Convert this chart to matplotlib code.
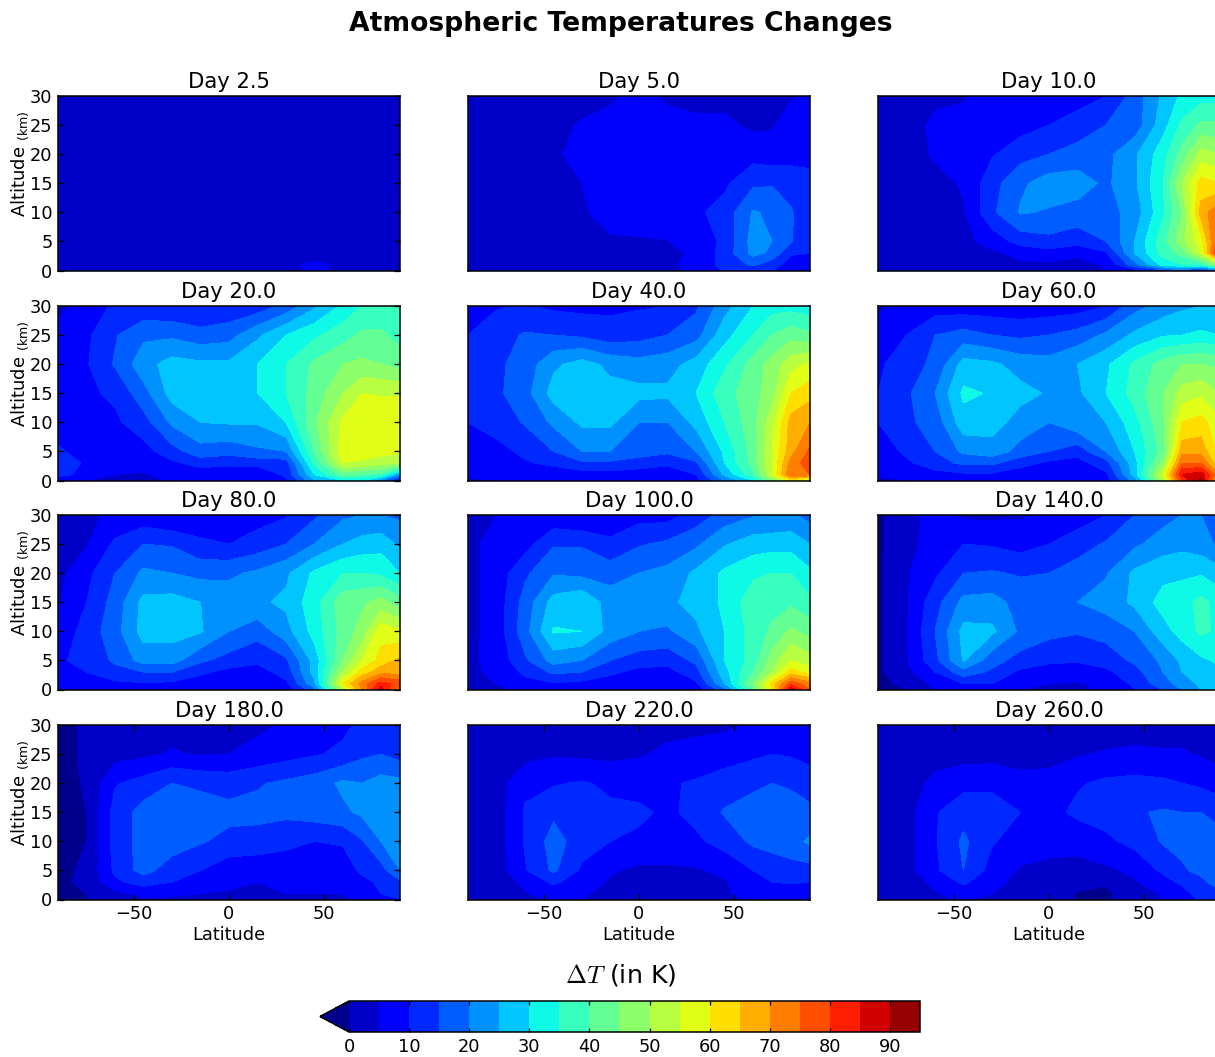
import numpy as np
import matplotlib
matplotlib.use('Agg')
import matplotlib.pyplot as plt

plt.rcParams['mathtext.fontset'] = 'cm'

latitudes = [-90, -75, -60, -45, -30, -15, 0, 15, 30, 45, 60, 70, 80, 90]
altitudes = [30, 25, 20, 15, 10, 5, 3, 1, 0]
levels = list(range(0, 100, 5))
cbar_ticks = list(range(0, 100, 10))

# one row per altitude, from 30 km down to the ground
day_2_5 = [
    [2, 2, 2, 2, 2, 2, 2, 2, 2, 2, 2, 2, 2, 2],
    [2, 2, 2, 2, 2, 2, 2, 2, 2, 2, 2, 2, 2, 2],
    [2, 2, 2, 2, 2, 2, 2, 2, 2, 2, 2, 2, 2, 2],
    [2, 2, 2, 2, 2, 2, 2, 2, 2, 2, 2, 2, 2, 2],
    [2, 2, 2, 2, 2, 2, 2, 2, 2, 2, 2, 2, 2, 2],
    [2, 2, 2, 2, 2, 2, 2, 2, 2, 2, 2, 2, 2, 2],
    [2, 2, 2, 2, 2, 2, 2, 2, 2, 2, 3, 2, 2, 2],
    [3, 3, 3, 3, 3, 3, 3, 3, 4, 6, 4, 3, 3, 3],
    [2, 3, 3, 3, 3, 3, 3, 3, 4, 5.5, 4, 3, 3, 2],
]
day_5 = [
    [3, 3, 3, 3, 3, 4.5, 6, 4.5, 3.5, 3.5, 3, 3.5, 4.5, 6],
    [3, 3, 3, 3.5, 5.5, 6, 7, 6, 6, 6, 4, 4.5, 7, 8],
    [3, 3, 3, 4, 7, 7, 8, 8, 8, 8, 8, 7, 8, 9],
    [3, 3, 3, 3.5, 5, 7, 8, 9, 9, 9, 14, 14.5, 13, 11],
    [3, 3, 3, 3, 4.5, 6.5, 7.5, 8, 9, 12, 20.5, 19, 15.5, 11],
    [3, 3, 3, 3, 3.5, 4.5, 4.5, 4.8, 7, 11, 22, 20, 15.5, 10.5],
    [3, 3, 3, 3, 3, 3.5, 3.5, 3.5, 6, 12, 21.5, 19, 10.5, 10],
    [3, 3, 3, 3, 3, 3, 3, 3, 8, 11, 16, 12, 8, 7],
    [3, 3, 3, 3, 3, 3, 3, 3, 6.5, 10.5, 11, 10.5, 4.5, 6],
]
day_10 = [
    [3, 3, 4, 4.5, 6.5, 7, 7.5, 8, 10, 17, 26, 31, 33, 33],
    [3, 3, 6, 6.5, 7, 8, 10, 12, 15, 17, 28, 36, 41, 41],
    [3, 3, 5.5, 7, 9.5, 13, 15, 17, 18.5, 24, 33, 42, 52, 50],
    [3, 3, 3.5, 5.5, 13, 19, 22.5, 22.5, 19, 24, 35, 50, 62, 60],
    [3, 3, 3, 4.5, 14, 20.5, 19.5, 18, 18, 22, 34, 45, 67, 75],
    [3, 3, 3, 3.5, 7, 12, 13.5, 12, 15, 25, 38, 48, 58, 80],
    [3, 3, 3, 3, 4, 6.5, 8, 6, 9.5, 25, 37, 42, 55, 85],
    [2.5, 3.5, 3, 3, 3, 4, 4, 3.5, 5.5, 18, 32, 35, 36, 50],
    [3, 3, 3, 3, 3, 3.5, 3.5, 3.5, 5, 8, 14, 17, 9, 20],
]
day_20 = [
    [4, 6.5, 11, 11, 10.5, 9.5, 11, 12, 16.5, 24, 31, 35, 36, 36],
    [6, 9, 14.5, 19, 19, 17, 18, 24, 30, 34, 38, 41, 41, 38],
    [7, 9.5, 15.5, 23, 27, 26, 26, 30, 35, 41, 45, 46, 45, 43],
    [7, 9, 11, 18, 27, 29, 29, 30, 35, 42, 50, 55, 54.5, 54.5],
    [8.5, 7.5, 9, 13, 21, 25, 25.5, 25.5, 30, 44, 56, 59, 59, 59],
    [10.5, 8.5, 7, 8, 13, 18, 17, 19, 20, 40, 58, 58, 57, 56],
    [12, 9.5, 5.5, 6.5, 9, 12, 11, 12, 12.5, 36, 55, 54, 52, 50],
    [11, 9, 5, 4.5, 6.5, 7, 7, 5.5, 11, 30, 42, 40, 38, 22],
    [8, 5, 4, 3.5, 5.5, 6, 6, 5, 9, 24, 30, 30, 20, 8],
]
day_40 = [
    [7, 9.5, 10.5, 9, 8.5, 9, 9.5, 10, 14, 23, 30, 33, 33, 32],
    [10, 13, 15.5, 15, 14, 12, 13, 15, 18, 28, 35, 40, 43, 41],
    [11, 14, 17, 24, 27, 23.5, 22, 23, 27, 34, 42, 47, 53, 56],
    [11.5, 14, 18, 27, 27.5, 27, 26.5, 26, 30, 38, 43, 48, 60, 63],
    [10, 12, 15.5, 21, 26, 26, 20, 20, 26.5, 35, 43, 53, 67, 70],
    [8.5, 8.5, 11, 15, 20, 20, 18, 16, 20, 31, 42, 55, 68, 76],
    [8, 8, 9.5, 11, 14, 14, 12, 11, 14, 30, 42, 55, 72, 78],
    [5.5, 7, 7.5, 7.5, 7.5, 8, 8, 7, 10, 26, 38, 55, 75, 75],
    [4.5, 5, 5, 5, 5, 5, 5, 5, 8, 20, 30, 45, 60, 50],
]
day_60 = [
    [4, 7, 7.5, 7, 7, 6.5, 7, 7.5, 10, 18, 22, 24, 25, 26],
    [7, 10, 15, 17, 15, 14, 15, 17, 21, 26, 29.5, 30, 31, 30],
    [9, 13, 16, 27, 26, 23, 22, 25, 29, 36, 42, 45, 45, 44],
    [10, 14, 20, 31, 29.5, 26.5, 24.5, 24, 30, 37, 45, 52, 54, 50],
    [10, 14, 17, 28, 27, 23, 20, 24, 25, 33, 44, 60, 62, 56],
    [7, 11, 15, 21, 23, 18, 15, 12, 20, 30, 42, 68, 68, 58],
    [6.5, 9, 13, 16, 16, 12, 9, 8, 13, 28, 47, 75, 75, 60],
    [5.5, 7, 8, 9, 9, 7, 6, 5.5, 9, 27, 55, 85, 88, 70],
    [4, 5, 5, 5.5, 5.5, 5, 5, 5, 8, 22, 50, 80, 92, 60],
]
day_80 = [
    [3.5, 4, 6, 6.5, 4.5, 6.5, 7.5, 8, 9.5, 14, 19, 20, 20, 19],
    [3.5, 4.5, 11, 15, 14.5, 11, 10, 12, 15, 20, 25, 27, 28, 24],
    [3.5, 8.5, 15, 21, 20, 18.5, 19, 21, 24, 31, 35, 35, 34, 30],
    [4.5, 10, 17, 26.5, 27, 25, 23, 24, 26, 33, 43, 44, 47, 42],
    [6.5, 12, 18, 27, 27, 25.5, 20, 17, 23, 32, 42, 47, 58, 56],
    [9.5, 11, 16, 22, 22, 16, 13, 11, 14, 27, 45, 55, 62, 66],
    [9, 10, 13, 15, 15, 11, 8.5, 8, 12, 27, 50, 62, 68, 68],
    [7.5, 8.5, 9, 9.5, 9, 7.5, 6.5, 6.5, 9, 24, 60, 72, 82, 78],
    [5, 6, 6.5, 6.5, 6, 5.5, 5, 5, 7, 18, 50, 70, 88, 70],
]
day_100 = [
    [3.5, 5, 6.5, 6, 4.5, 7, 8, 8, 12, 17, 19.5, 20, 21, 18],
    [3.5, 7, 8, 14.5, 14.5, 11, 14.5, 16, 19, 24.5, 27.5, 28, 28, 25],
    [3.5, 7, 14, 19.5, 18.5, 18, 20, 21.5, 26, 31, 34, 35, 35, 31],
    [3.5, 7, 17, 27, 29.5, 22.5, 23, 24, 26.5, 31, 38, 38, 39, 36],
    [3.5, 7, 18, 30.5, 30, 23, 20, 19, 24, 30, 37, 41, 46, 43],
    [4, 6.5, 14, 22, 20, 15, 12.5, 12, 16, 30, 37, 47, 55, 52],
    [4, 6, 11, 16, 15, 11, 8.5, 8, 13, 28, 40, 50, 62, 58],
    [4, 5, 8.5, 9.5, 8.5, 7.5, 6, 6, 9, 25, 45, 62, 78, 72],
    [3.5, 4, 6, 6.5, 5.5, 5, 5, 5, 7, 18, 40, 60, 88, 75],
]
day_140 = [
    [-1, 3.5, 6.5, 4, 4, 4.5, 5.5, 7, 10, 15, 18, 20, 20, 17],
    [-1, 3.5, 7, 10, 9.5, 8, 10, 13, 15.5, 19, 22.5, 23.5, 22, 19],
    [-1, 4.5, 9, 15, 15.5, 14.5, 15, 17, 19.5, 26, 28.5, 29, 29.5, 27],
    [-1, 4.5, 13, 21.5, 22, 18, 18, 20, 22, 26, 32, 33, 36.5, 33],
    [-1, 4.5, 15, 26.5, 26, 19, 16.5, 15.5, 17, 20, 28, 32, 36, 34],
    [-1, 4.5, 13.5, 25.5, 17, 13, 11, 10.5, 12, 16, 21, 26, 29, 31],
    [-1, 3.5, 10, 18, 14, 9, 7.5, 7.5, 9, 13, 20, 25, 28, 29],
    [-1, 1, 6, 10, 10, 6, 5, 4.5, 6, 11, 18, 22, 26, 27],
    [-1, 0, 5, 7, 6, 5, 4.5, 4.5, 5.5, 10, 15, 20, 25, 30],
]
day_180 = [
    [-2, 1, 3, 3, 3, 3, 3, 4, 5.5, 7, 9, 11, 12, 11],
    [-2, 1, 3, 4, 5.5, 4.5, 5, 6.5, 8, 9.5, 11, 14, 15, 13],
    [-2, 0.5, 9.5, 12, 15, 14, 13, 14.5, 16, 17.5, 21, 20, 22, 21.5],
    [-2, 0, 12, 17, 18, 17.5, 16.5, 16.5, 16, 17.5, 19, 21, 23, 23],
    [-2, 0, 12, 17, 18, 15.5, 13.5, 13, 12, 10, 10.5, 14.5, 20, 22],
    [-1.5, 1, 11, 17, 12, 10, 7, 6.5, 5.5, 5.5, 7.5, 11, 13, 20],
    [-1, 1, 9, 12, 10, 7, 6, 5, 5.5, 5.5, 6, 8.5, 11, 14],
    [-1, 0, 3.5, 6.5, 5.5, 5, 4.5, 4, 5, 5, 5, 8, 10, 11],
    [-1, -0.2, 3, 4.5, 4.5, 4, 4, 3, 4, 4, 3, 7, 10, 10],
]
day_220 = [
    [2, 2, 2, 2, 2, 2, 3, 3.5, 3.5, 4, 5.5, 6.5, 7, 7],
    [2, 2.5, 3, 4.5, 4, 3.5, 4.5, 6, 7, 8, 9, 10, 9.5, 8],
    [2, 2.5, 9, 9.5, 10.5, 9, 8, 9.5, 10.5, 12, 14, 15, 14, 13],
    [2, 2.5, 10.5, 14, 13, 11, 11, 9, 11.5, 15.5, 17, 17.5, 18, 16],
    [2, 2.5, 10.5, 17, 12.5, 10, 9, 8.5, 9, 12, 16, 17, 18, 21],
    [2, 2.5, 9.5, 16, 9, 5.5, 4, 4, 4.5, 6, 10, 12, 13, 13],
    [1.5, 2, 6, 11, 7, 4.5, 3.5, 3, 3.5, 4.5, 8, 10, 10.5, 10],
    [0.5, 2, 4.5, 7, 5.5, 3.5, 3, 3, 3, 4.5, 6.5, 7.5, 7.5, 8],
    [1, 1.5, 4, 5.5, 5, 3, 3, 3, 3, 4, 6, 7, 7, 7],
]
day_260 = [
    [1.5, 1.5, 1.5, 1.5, 1.5, 1.5, 2, 2, 2, 2.5, 3, 3, 3, 2.5],
    [2, 2, 2.5, 3, 3, 2.5, 3.5, 4.5, 5.5, 6, 5.5, 5.5, 4.5, 3.5],
    [2, 2, 6.5, 8.5, 9, 7, 6.5, 9.5, 11, 11.5, 11, 10, 9, 7],
    [2, 3, 9.5, 13, 12, 10, 8.5, 11, 12, 14.5, 15.5, 15, 15, 14],
    [2, 3, 9.5, 16, 10.5, 7.5, 7, 7, 9, 11.5, 15.5, 16, 16, 16],
    [2, 3, 9, 15, 8, 4.5, 3.5, 3, 4, 6, 11, 14.5, 16, 19],
    [2, 2, 6, 11, 6, 4, 3, 1.5, 0.3, 4.5, 8, 11, 14, 17],
    [1.5, 2, 4.5, 7, 5, 3, 1.5, -0.3, -0.6, 2, 5.5, 8, 12, 14],
    [1.5, 2, 4, 5.5, 4, 2.5, 2, -0.2, -0.5, 2, 5, 7, 11, 13],
]

panels = [
    ('Day 2.5', day_2_5), ('Day 5.0', day_5), ('Day 10.0', day_10),
    ('Day 20.0', day_20), ('Day 40.0', day_40), ('Day 60.0', day_60),
    ('Day 80.0', day_80), ('Day 100.0', day_100), ('Day 140.0', day_140),
    ('Day 180.0', day_180), ('Day 220.0', day_220), ('Day 260.0', day_260),
]

W, H = 1215.0, 1057.0
lefts = [58, 468, 878]
tops = [96, 306, 515, 725]
colors = plt.cm.jet(np.linspace(0.014, 0.98, 20))

fig = plt.figure(figsize=(W / 100, H / 100), dpi=100)

for n, (title, values) in enumerate(panels):
    row, col = n // 3, n % 3
    ax = fig.add_axes([lefts[col] / W, 1 - (tops[row] + 174.5) / H, 342 / W, 174.5 / H])
    cs = ax.contourf(latitudes, altitudes, np.array(values), levels=levels,
                     colors=colors, extend='min')
    ax.set_xlim(-90, 90)
    ax.set_ylim(0, 30)
    ax.set_title(title, fontsize=15.2, pad=5.5)
    if row == 3:
        ax.set_xticks([-50, 0, 50])
        ax.set_xlabel('Latitude', fontsize=12.8, labelpad=2)
    else:
        ax.set_xticks([])
    if col == 0:
        ax.set_yticks(range(0, 35, 5))
        ax.set_ylabel(r'Altitude $\mathregular{_{(km)}}$', fontsize=13, labelpad=-1, y=0.61)
    else:
        ax.set_yticks([])
    ax.tick_params(direction='in', top=True, right=True, length=4, width=0.9,
                   labelsize=12.8, pad=4)
    for spine in ax.spines.values():
        spine.set_linewidth(1.1)

cax = fig.add_axes([320 / W, 1 - 1032 / H, 600 / W, 31 / H])
cbar = fig.colorbar(cs, cax=cax, orientation='horizontal', ticks=cbar_ticks,
                    extendfrac=0.0508)
cbar.ax.tick_params(direction='in', top=True, length=3, width=0.9, labelsize=12.8, pad=4)
cbar.outline.set_linewidth(1.1)

fig.text(621 / W, 1 - 975 / H, r'$\Delta T$ (in K)', ha='center', va='center', fontsize=18.3)
fig.text(621 / W, 1 - 24 / H, 'Atmospheric Temperatures Changes', ha='center', va='center',
         fontsize=19.2, fontweight='bold')

fig.savefig('out.png', dpi=100)
